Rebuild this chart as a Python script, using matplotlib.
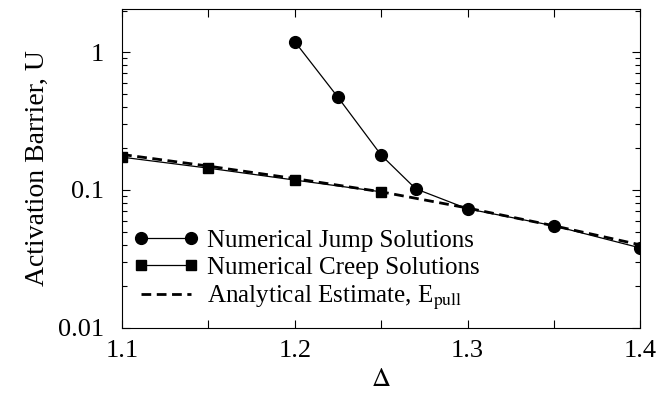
import matplotlib.pyplot as plt
from matplotlib.ticker import FixedLocator, LogLocator, NullFormatter

plt.rcParams['font.family'] = ['Liberation Serif', 'DejaVu Serif']
plt.rcParams['mathtext.fontset'] = 'stix'

# data
jump_x = [1.2, 1.225, 1.25, 1.27, 1.3, 1.35, 1.4]
jump_u = [1.19, 0.47, 0.179, 0.102, 0.073, 0.055, 0.038]

creep_x = [1.1, 1.15, 1.2, 1.25]
creep_u = [0.173, 0.144, 0.118, 0.097]

est_x = [1.1, 1.15, 1.2, 1.25, 1.3, 1.35, 1.4]
est_u = [0.181, 0.149, 0.121, 0.097, 0.074, 0.055, 0.040]

fig = plt.figure(figsize=(6.67, 3.96), dpi=100)
ax = fig.add_axes([0.183, 0.172, 0.777, 0.805])

ax.plot(jump_x, jump_u, 'k-', marker='o', ms=8.5, lw=0.9,
        label='Numerical Jump Solutions')
ax.plot(creep_x, creep_u, 'k-', marker='s', ms=7, lw=0.9,
        label='Numerical Creep Solutions')
ax.plot(est_x, est_u, 'k--', lw=2.0, dashes=(3.5, 2),
        label=r'Analytical Estimate, E$_{\mathrm{pull}}$')

ax.set_yscale('log')
ax.set_xlim(1.1, 1.4)
ax.set_ylim(0.01, 2.05)

ax.set_xticks([1.1, 1.2, 1.3, 1.4])
ax.set_xticklabels(['1.1', '1.2', '1.3', '1.4'])
ax.xaxis.set_minor_locator(FixedLocator([1.15, 1.25, 1.35]))
ax.set_yticks([0.01, 0.1, 1])
ax.set_yticklabels(['0.01', '0.1', '1'])
ax.yaxis.set_minor_locator(LogLocator(base=10, subs=range(2, 10)))
ax.yaxis.set_minor_formatter(NullFormatter())

ax.tick_params(which='both', direction='in', top=True, right=True,
               labelsize=19, width=0.8)
ax.tick_params(which='major', length=6)
ax.tick_params(axis='x', which='major', pad=9)
ax.tick_params(axis='y', which='major', pad=13)
ax.tick_params(axis='x', which='minor', length=6)
ax.tick_params(axis='y', which='minor', length=3.5)

ax.set_xlabel(r'$\Delta$', fontsize=19, labelpad=5)
ax.set_ylabel('Activation Barrier, U', fontsize=20, labelpad=6)

ax.legend(loc='lower left', bbox_to_anchor=(-0.003, 0.012), frameon=False,
          fontsize=18, numpoints=2, handlelength=2.6, handletextpad=0.35,
          labelspacing=0.18, borderaxespad=0.2, borderpad=0.3)

fig.savefig('out.png', dpi=100)
